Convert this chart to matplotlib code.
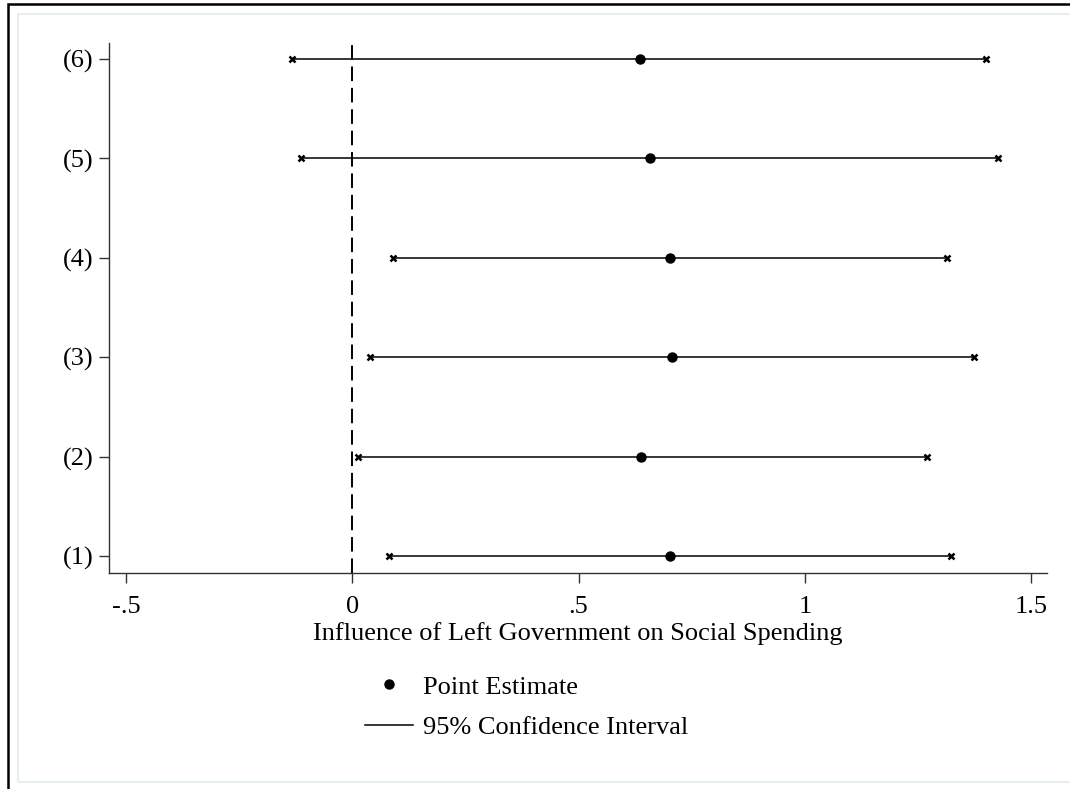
import matplotlib
matplotlib.use("Agg")
import matplotlib.pyplot as plt
from matplotlib.lines import Line2D
from matplotlib.patches import Rectangle

# ---- data ----
models = ["(1)", "(2)", "(3)", "(4)", "(5)", "(6)"]
positions = [1, 2, 3, 4, 5, 6]
estimates = [0.701, 0.639, 0.706, 0.701, 0.657, 0.635]
ci_low = [0.082, 0.013, 0.040, 0.091, -0.113, -0.133]
ci_high = [1.323, 1.270, 1.374, 1.314, 1.427, 1.400]
xticks = [-0.5, 0, 0.5, 1, 1.5]
xticklabels = ["-.5", "0", ".5", "1", "1.5"]

plt.rcParams['font.family'] = ['Liberation Serif', 'DejaVu Serif']
FS = 19

W, H = 1070, 789
fig = plt.figure(figsize=(W / 100, H / 100), dpi=100)
fig.patch.set_facecolor('white')

# outer black border and inner light frame
fig.patches.append(Rectangle((8 / W, -0.05), 1.2, (H - 4) / H + 0.05, transform=fig.transFigure,
                             fill=False, edgecolor='black', linewidth=1.8, zorder=0))
fig.patches.append(Rectangle((18 / W, (H - 782) / H), 1.2, (782 - 14) / H, transform=fig.transFigure,
                             fill=False, edgecolor='#e6eef0', linewidth=1.5, zorder=0))

ax = fig.add_axes([109 / W, (H - 573) / H, (1047 - 109) / W, (573 - 43) / H])
ax.set_facecolor('none')

ax.hlines(positions, ci_low, ci_high, color='black', linewidth=1.1, zorder=2)
ax.plot(ci_low, positions, linestyle='none', marker='x', markersize=4.5, markeredgewidth=1.8,
        color='black', zorder=3)
ax.plot(ci_high, positions, linestyle='none', marker='x', markersize=4.5, markeredgewidth=1.8,
        color='black', zorder=3)
ax.plot(estimates, positions, linestyle='none', marker='o', markersize=6.5, color='black', zorder=4)

ax.axvline(0, color='black', linewidth=1.4, dashes=(7.5, 3.5), zorder=1)

ax.set_xlim(-0.5376, 1.535)
ax.set_ylim(0.83, 6.16)
ax.set_xticks(xticks)
ax.set_xticklabels(xticklabels, fontsize=FS)
ax.set_yticks(positions)
ax.set_yticklabels(models, fontsize=FS)
ax.tick_params(axis='both', direction='out', length=7, width=1.0, color='#333333')
ax.tick_params(axis='x', pad=9.5)
ax.tick_params(axis='y', pad=4)
for s in ['top', 'right']:
    ax.spines[s].set_visible(False)
for s in ['left', 'bottom']:
    ax.spines[s].set_linewidth(1.0)
    ax.spines[s].set_color('#333333')

ax.set_xlabel("Influence of Left Government on Social Spending", fontsize=FS, labelpad=3)

handles = [Line2D([], [], linestyle='none', marker='o', markersize=6.5, color='black'),
           Line2D([], [], color='black', linewidth=1.1)]
fig.legend(handles, ["Point Estimate", "95% Confidence Interval"], loc='upper left',
           bbox_to_anchor=(352 / W, (H - 662) / H), frameon=False, fontsize=FS,
           handlelength=1.8, handletextpad=0.4, labelspacing=0.64, borderpad=0)

fig.savefig("out.png", dpi=100)
